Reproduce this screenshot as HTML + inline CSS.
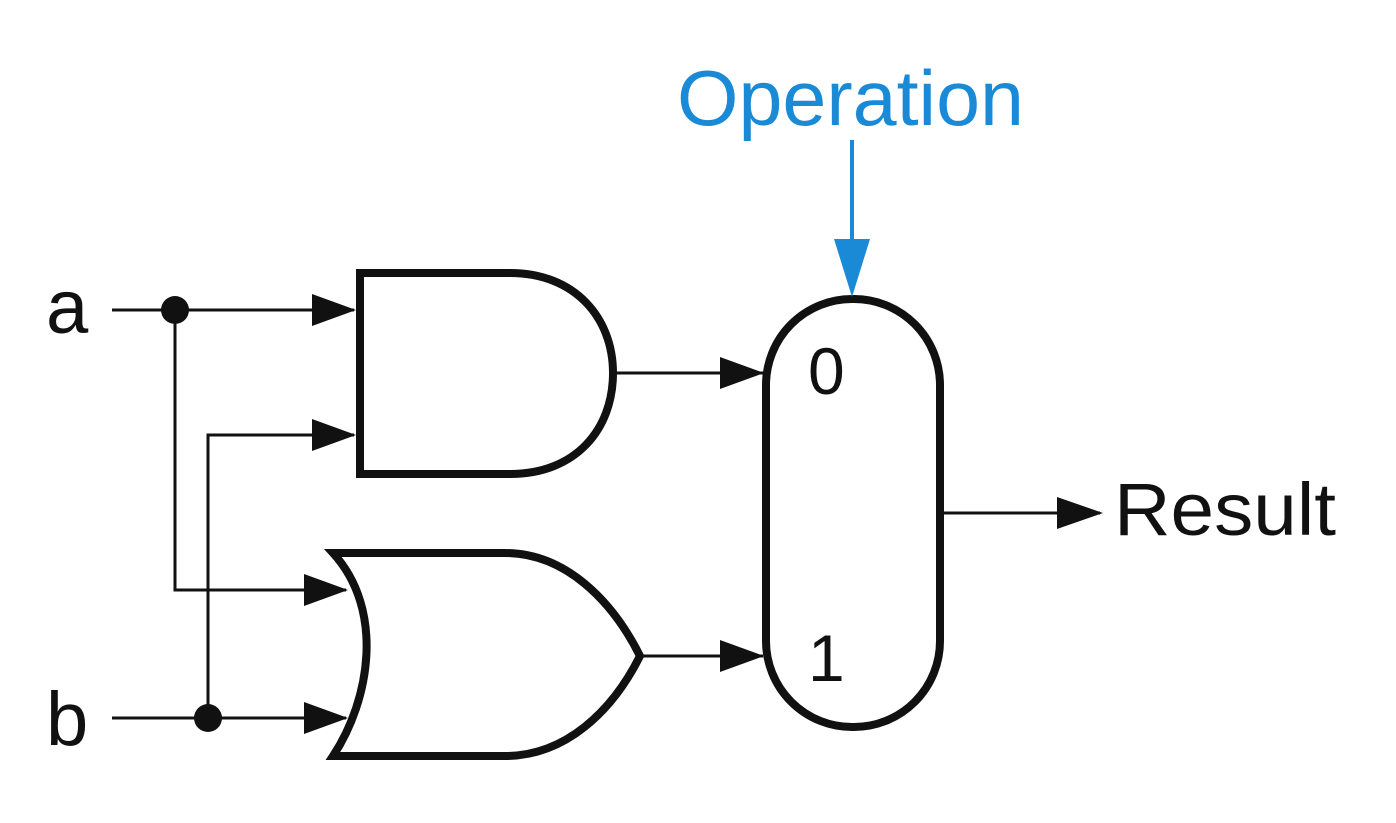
<!DOCTYPE html>
<html><head><style>html,body{margin:0;padding:0;background:#fff}</style></head><body>
<svg width="1396" height="818" viewBox="0 0 1396 818" xmlns="http://www.w3.org/2000/svg" font-family="Liberation Sans, sans-serif">
<g fill="none" stroke="#111" stroke-width="3">
<line x1="112" y1="310" x2="175" y2="310"/>
<path d="M175,310 H354" />
<path d="M175,310 V590 H346"/>
<line x1="112" y1="718" x2="208" y2="718"/>
<path d="M208,718 H346"/>
<path d="M208,718 V435 H354"/>
<line x1="615" y1="373" x2="763" y2="373"/>
<line x1="640" y1="656" x2="763" y2="656"/>
<line x1="940" y1="513" x2="1100" y2="513"/>
</g>
<g fill="#111">
<path d="M356,310 l-44,-16 v32z"/>
<path d="M356,435 l-44,-16 v32z"/>
<path d="M348,590 l-44,-16 v32z"/>
<path d="M348,718 l-44,-16 v32z"/>
<path d="M764,373 l-44,-16 v32z"/>
<path d="M764,656 l-44,-16 v32z"/>
<path d="M1103,513 l-46,-16 v32z"/>
<circle cx="175" cy="310" r="14"/>
<circle cx="208" cy="718" r="14"/>
</g>
<path d="M360,273 H510 C575,273 613,318 613,373 C613,430 575,474 510,474 H360 Z" fill="none" stroke="#111" stroke-width="8"/>
<path d="M333,553 H505 C565,553 612,600 640,656 C612,712 565,756 505,756 H333 C370,700 385,610 333,553 Z" fill="none" stroke="#111" stroke-width="8"/>
<rect x="766" y="299" width="174" height="428" rx="86" ry="86" fill="none" stroke="#111" stroke-width="8"/>
<line x1="852" y1="140" x2="852" y2="245" stroke="#1a8ad6" stroke-width="4"/>
<path d="M852,297 l-18,-58 h36z" fill="#1a8ad6"/>
<g fill="#111">
<text x="46" y="333" font-size="76">a</text>
<text x="46" y="745" font-size="76">b</text>
<text x="808" y="394" font-size="66">0</text>
<text x="808" y="681" font-size="66">1</text>
<text x="1114" y="535" font-size="74" textLength="222" lengthAdjust="spacingAndGlyphs">Result</text>
</g>
<text x="677" y="125" font-size="78" fill="#1a8ad6" textLength="347" lengthAdjust="spacingAndGlyphs">Operation</text>
</svg>
</body></html>
